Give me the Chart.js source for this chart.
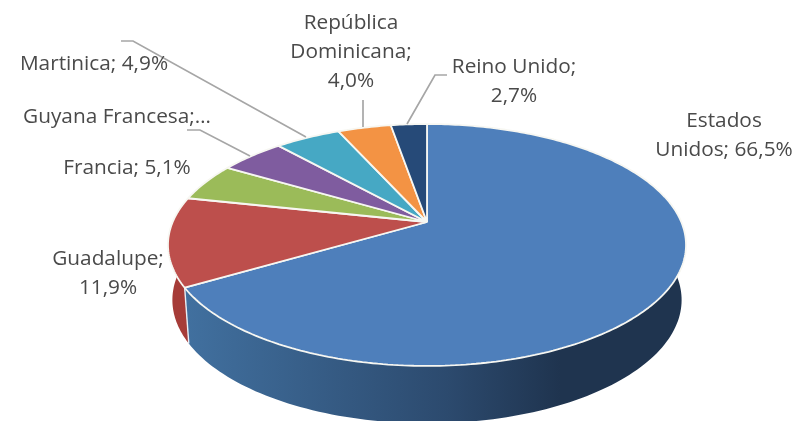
<!DOCTYPE html>
<html lang="es">
<head>
  <meta charset="UTF-8">
  <title>Pie 3D</title>
  <script src="https://cdn.jsdelivr.net/npm/chart.js"></script>
  <style>
    html, body { margin: 0; padding: 0; background: #fff; overflow: hidden; }
    canvas { display: block; }
  </style>
</head>
<body>
  <canvas id="pieChart" width="797" height="421"></canvas>

  <script>
    const categories = ['Estados Unidos', 'Guadalupe', 'Francia', 'Guyana Francesa', 'Martinica', 'República Dominicana', 'Reino Unido'];
    const shares = [66.5, 11.9, 5.1, 4.9, 4.9, 4.0, 2.7];
    const sliceColors = ['#4e7fbb', '#bd4f4c', '#9bbb59', '#7f5c9f', '#46a8c4', '#f39344', '#264a78'];

    // Perspective of the tilted disc: pie centre, radius and foreshortening
    const view = { x: 427, y: 222, r: 254.3, c: 0.19, a: -74.4 };

    function project(chartArc, px, py) {
      const u = (px - chartArc.x) / chartArc.outerRadius;
      const v = -(py - chartArc.y) / chartArc.outerRadius;
      const w = 1 + view.c * v;
      return { x: view.x + view.r * u / w, y: (view.a * v + view.y) / w };
    }

    // Lower face of the disc, seen under the top one
    function lower(p) {
      return { x: view.x + (p.x - view.x) * 0.983, y: 300 + (p.y - 245) * 1.02 };
    }

    function rimPoint(chartArc, angle) {
      return project(chartArc,
        chartArc.x + Math.cos(angle) * chartArc.outerRadius,
        chartArc.y + Math.sin(angle) * chartArc.outerRadius);
    }

    const wallColors = [
      ['#41709f', '#2c4a6e', '#1f344f'],
      ['#a63c38', '#a8403c', '#a8403c']
    ];

    const wallPlugin = {
      id: 'wall',
      beforeDatasetsDraw(chart) {
        const ctx = chart.ctx;
        const arcs = chart.getDatasetMeta(0).data;
        for (let i = arcs.length - 1; i >= 0; i--) {
          const arc = arcs[i];
          const top = [];
          const steps = 180;
          for (let s = 0; s <= steps; s++) {
            top.push(rimPoint(arc, arc.startAngle + (arc.endAngle - arc.startAngle) * s / steps));
          }
          const cols = wallColors[i] || [sliceColors[i], sliceColors[i], sliceColors[i]];
          const grad = ctx.createLinearGradient(186, 0, 560, 0);
          grad.addColorStop(0, cols[0]);
          grad.addColorStop(0.7, cols[1]);
          grad.addColorStop(1, cols[2]);
          ctx.beginPath();
          top.forEach((p, k) => k ? ctx.lineTo(p.x, p.y) : ctx.moveTo(p.x, p.y));
          top.slice().reverse().forEach(p => {
            const q = lower(p);
            ctx.lineTo(q.x, q.y);
          });
          ctx.closePath();
          ctx.fillStyle = grad;
          ctx.fill();
        }
        // seam between the two visible walls
        arcs.forEach(arc => {
          if (Math.sin(arc.endAngle) > 0) {
            const p = rimPoint(arc, arc.endAngle);
            const q = lower(p);
            ctx.beginPath();
            ctx.moveTo(p.x, p.y);
            ctx.lineTo(q.x, q.y);
            ctx.strokeStyle = '#e8eef5';
            ctx.lineWidth = 1.4;
            ctx.stroke();
          }
        });
      },
      // the library draws the slices, their paths go through the perspective
      beforeDatasetDraw(chart) {
        const ctx = chart.ctx;
        const ref = chart.getDatasetMeta(0).data[0];
        const lineTo = CanvasRenderingContext2D.prototype.lineTo;
        ctx.lineTo = function (x, y) {
          const p = project(ref, x, y);
          lineTo.call(ctx, p.x, p.y);
        };
        ctx.arc = function (x, y, r, a0, a1, ccw) {
          const n = Math.max(2, Math.ceil(Math.abs(a1 - a0) * 60));
          for (let s = 0; s <= n; s++) {
            const a = a0 + (a1 - a0) * s / n;
            const p = project(ref, x + Math.cos(a) * r, y + Math.sin(a) * r);
            lineTo.call(ctx, p.x, p.y);
          }
        };
      },
      afterDatasetDraw(chart) {
        delete chart.ctx.lineTo;
        delete chart.ctx.arc;
      }
    };

    const fmt = v => v.toFixed(1).replace('.', ',') + '%';

    const labelsPlugin = {
      id: 'pieLabels',
      afterDraw(chart) {
        const ctx = chart.ctx;
        // leader lines
        ctx.strokeStyle = '#a6a6a6';
        ctx.lineWidth = 1.7;
        [
          [[121, 41], [133, 41], [306, 137]],
          [[187, 130], [200, 130], [250, 156]],
          [[363, 100], [363, 127]],
          [[447, 75], [435, 75], [407, 124]]
        ].forEach(line => {
          ctx.beginPath();
          line.forEach((p, k) => k ? ctx.lineTo(p[0], p[1]) : ctx.moveTo(p[0], p[1]));
          ctx.stroke();
        });

        ctx.font = '20.8px "Open Sans"';
        ctx.fillStyle = '#4a4a4a';
        ctx.textBaseline = 'middle';
        ctx.textAlign = 'center';
        const put = (text, x, y) => ctx.fillText(text, x, y);
        put('Estados', 724, 121);
        put('Unidos; ' + fmt(shares[0]), 724, 150);
        put('Guadalupe;', 108, 259);
        put(fmt(shares[1]), 108, 288);
        put('Francia; ' + fmt(shares[2]), 127, 168);
        put('Guyana Francesa;…', 117, 117);
        put('Martinica; ' + fmt(shares[4]), 94, 64);
        put('República', 351, 23);
        put('Dominicana;', 351, 52);
        put(fmt(shares[5]), 351, 81);
        put('Reino Unido;', 514, 67);
        put(fmt(shares[6]), 514, 96);
      }
    };

    new Chart(document.getElementById('pieChart').getContext('2d'), {
      type: 'pie',
      data: {
        labels: categories,
        datasets: [{
          data: shares,
          backgroundColor: sliceColors,
          borderColor: '#f7f7f2',
          borderWidth: 1.8
        }]
      },
      options: {
        responsive: false,
        animation: false,
        plugins: { legend: { display: false }, tooltip: { enabled: false } }
      },
      plugins: [wallPlugin, labelsPlugin]
    });
  </script>
</body>
</html>
